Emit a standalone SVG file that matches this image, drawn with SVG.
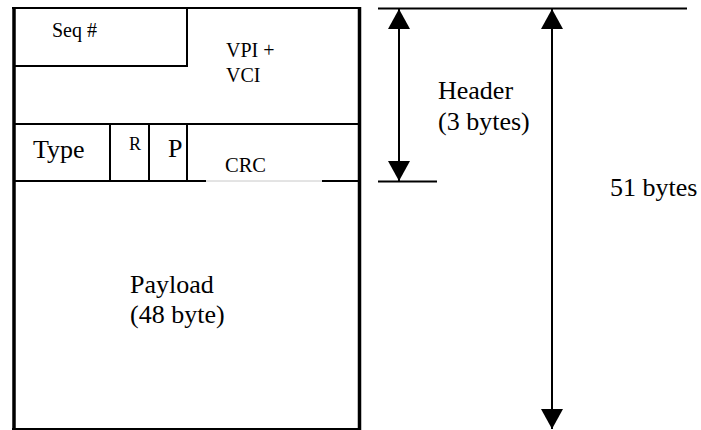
<svg xmlns="http://www.w3.org/2000/svg" width="701" height="430" viewBox="0 0 701 430">
  <style>
    text { font-family: 'Liberation Serif', 'Times New Roman', 'DejaVu Serif', serif; fill: #000; }
    .in { stroke: #000; stroke-width: 2; fill: none; }
    .bd { stroke: #000; stroke-width: 3.5; fill: none; }
    .ln { stroke: #000; stroke-width: 2; fill: none; }
  </style>
  <defs>
    <marker id="ah" markerUnits="userSpaceOnUse" markerWidth="20" markerHeight="22" refX="20" refY="11" orient="auto-start-reverse">
      <path d="M0,0 L20,11 L0,22 z" fill="#000"/>
    </marker>
  </defs>

  <rect width="701" height="430" fill="#fff"/>

  <g id="cell">
    <line class="ln" x1="12" y1="8" x2="361" y2="8"/>
    <line class="ln" x1="12" y1="429" x2="361" y2="429"/>
    <line class="bd" x1="14" y1="7" x2="14" y2="430"/>
    <line class="bd" x1="359.5" y1="7" x2="359.5" y2="430"/>
  </g>

  <g font-family="Liberation Serif, serif">
  <g id="seq">
    <polyline class="in" points="14,66 187,66 187,8"/>
    <text x="52" y="37" font-size="20">Seq #</text>
  </g>

  <g id="vpivci">
    <line class="in" x1="14" y1="124" x2="359" y2="124"/>
    <text x="226" y="57" font-size="20">VPI +</text>
    <text x="226" y="82" font-size="20">VCI</text>
  </g>

  <g id="type">
    <line class="in" x1="110" y1="124" x2="110" y2="181"/>
    <text x="33" y="158" font-size="26">Type</text>
  </g>

  <g id="r">
    <line class="in" x1="149" y1="124" x2="149" y2="181"/>
    <text x="129" y="150" font-size="18">R</text>
  </g>

  <g id="p">
    <line class="in" x1="187" y1="124" x2="187" y2="181"/>
    <text x="168" y="157" font-size="26">P</text>
  </g>

  <g id="crc">
    <line class="in" x1="14" y1="181" x2="206" y2="181"/>
    <line x1="206" y1="181" x2="322" y2="181" stroke="#c8c8c8" stroke-width="1"/>
    <line class="in" x1="322" y1="181" x2="359" y2="181"/>
    <text x="225" y="172" font-size="20.5">CRC</text>
  </g>

  <g id="payload">
    <text x="130" y="293" font-size="26">Payload</text>
    <text x="130" y="323" font-size="26">(48 byte)</text>
  </g>

  <g id="header-label">
    <text x="438" y="99" font-size="26">Header</text>
    <text x="438" y="130" font-size="26">(3 bytes)</text>
  </g>

  <g id="total-label">
    <text x="610" y="196" font-size="26">51 bytes</text>
  </g>
  </g>

  <g id="connectors">
    <line class="ln" x1="378" y1="8.5" x2="687" y2="8.5"/>
    <line class="ln" x1="378" y1="181.5" x2="437" y2="181.5"/>
    <line class="ln" x1="399" y1="9" x2="399" y2="181" marker-start="url(#ah)" marker-end="url(#ah)"/>
    <line class="ln" x1="552" y1="9" x2="552" y2="429" marker-start="url(#ah)" marker-end="url(#ah)"/>
  </g>
</svg>
